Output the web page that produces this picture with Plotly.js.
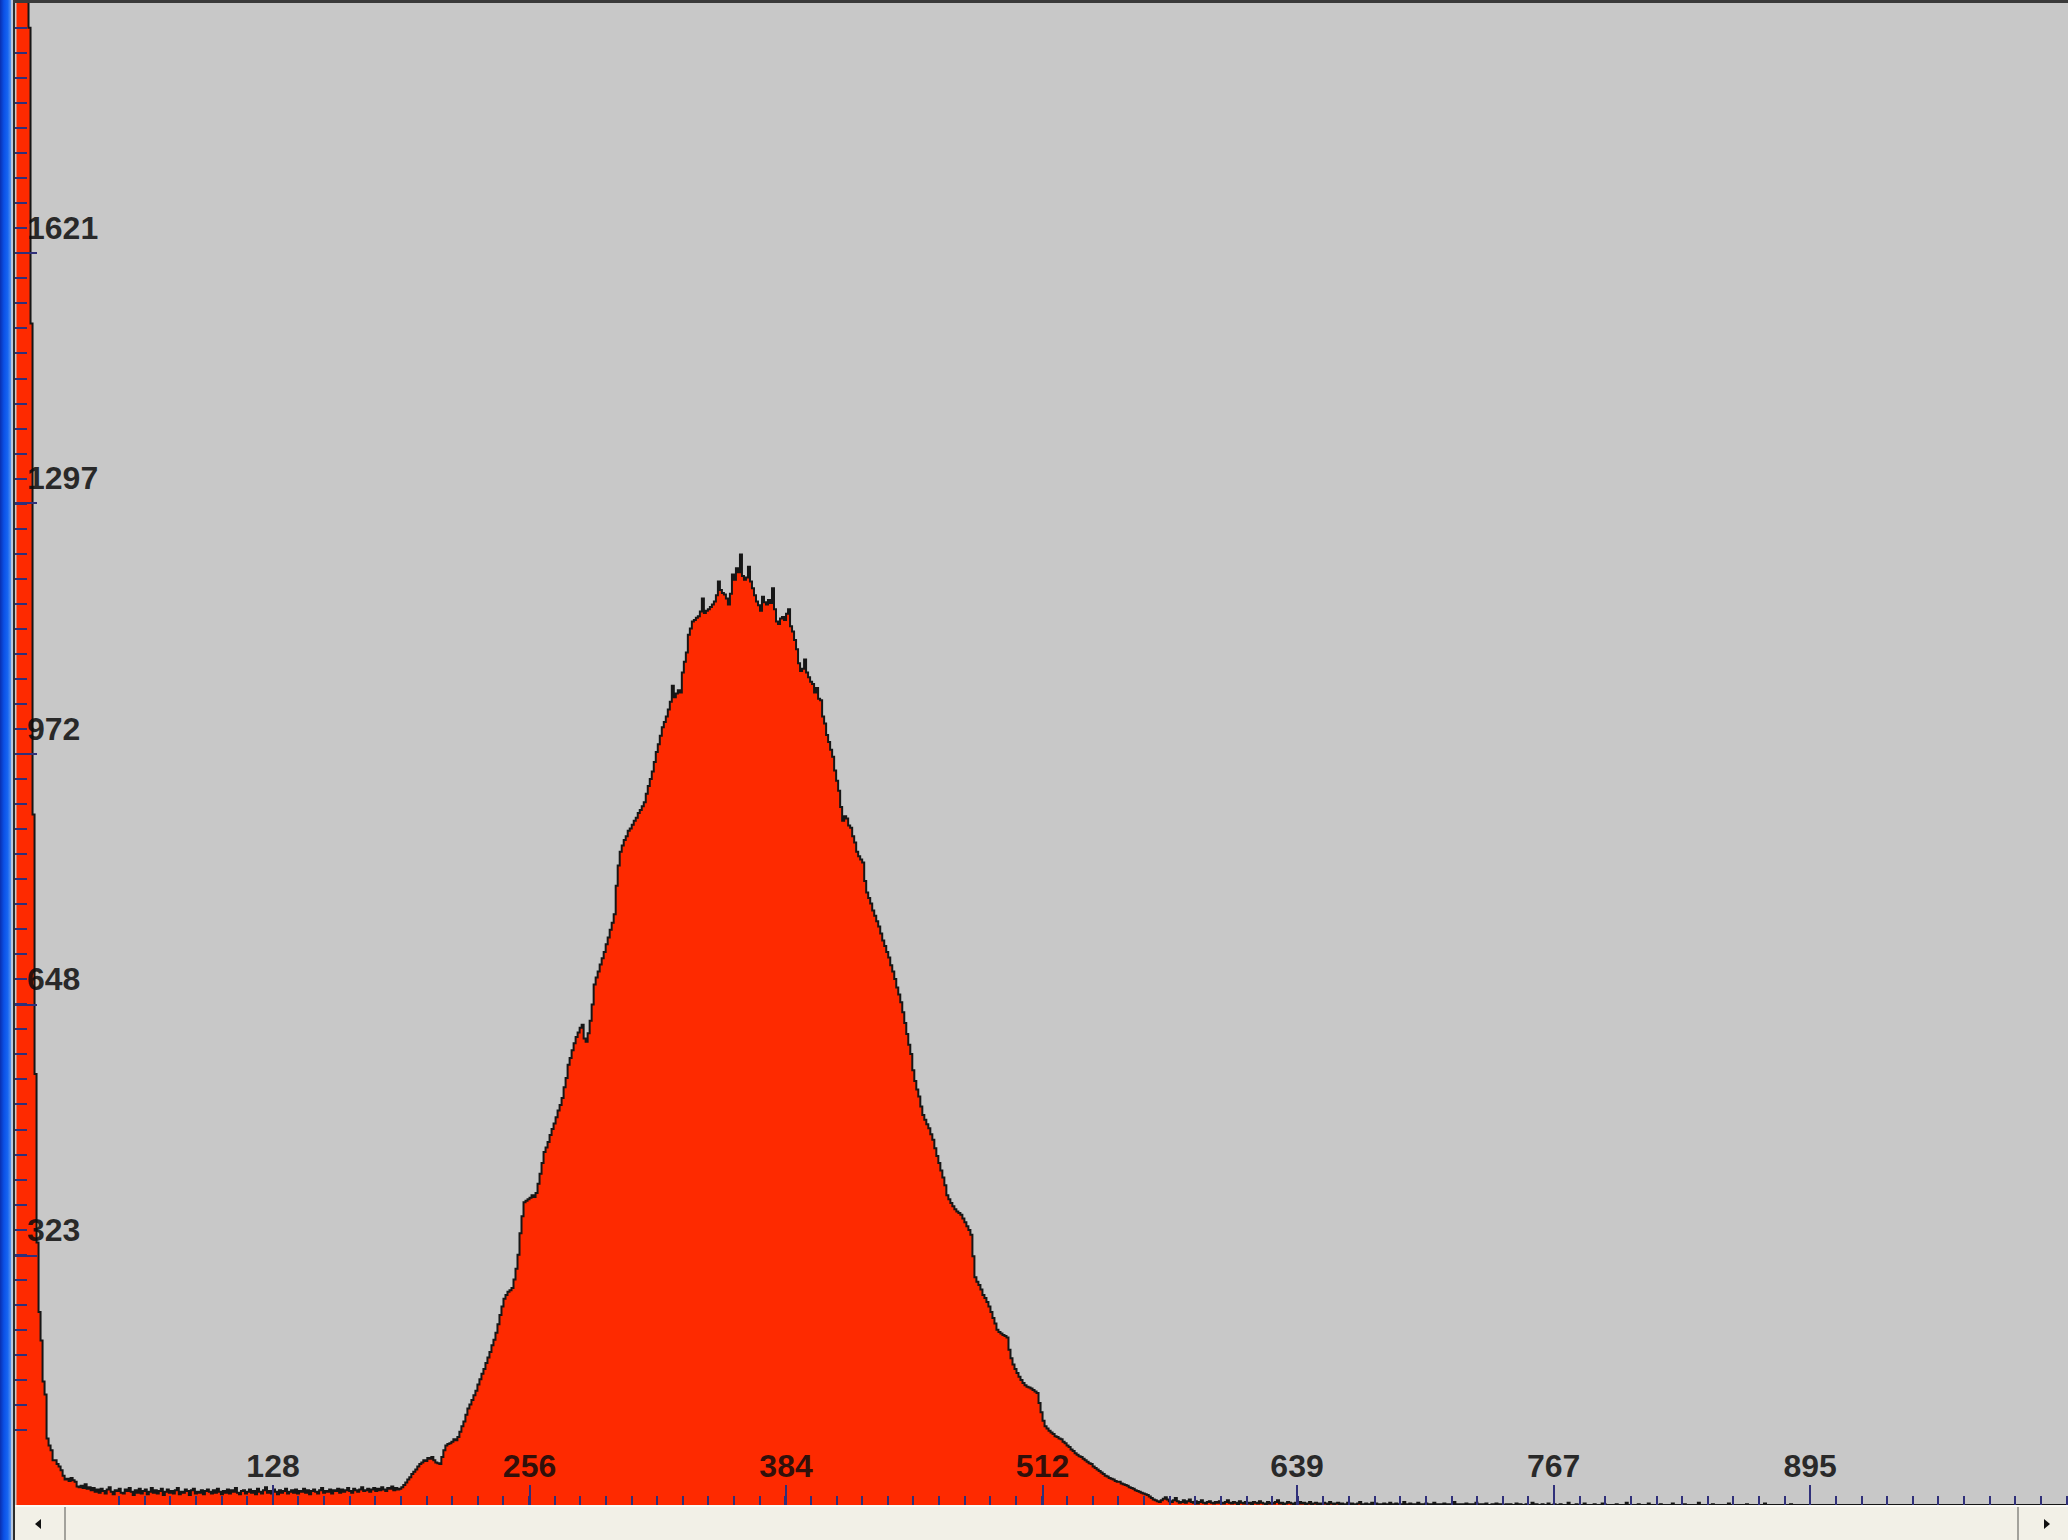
<!DOCTYPE html>
<html>
<head>
<meta charset="utf-8">
<script src="https://cdn.plot.ly/plotly-3.0.1.min.js"></script>
<style>
  html, body { margin: 0; padding: 0; width: 2068px; height: 1540px; overflow: hidden; background: #c8c8c8; }
  #edge { position: absolute; left: 0; top: 0; width: 11px; height: 1540px;
          background: linear-gradient(to right, #0a2fb0 0%, #0b50e6 35%, #1665f2 70%, #5a94ef 100%); }
  #edge-hi { position: absolute; left: 11px; top: 0; width: 2px; height: 1540px; background: #b9c7dc; }
  #edge-dark { position: absolute; left: 13px; top: 0; width: 2px; height: 1540px; background: #2c2c2c; }
  #top-line { position: absolute; left: 13px; top: 0; width: 2055px; height: 3px; background: #3a3a3a; }
  #chart { position: absolute; left: 15px; top: 3px; width: 2053px; height: 1502px; }
  #scroll { position: absolute; left: 15px; top: 1505px; width: 2053px; height: 35px;
            background: #f2f0e7; border-top: 2px solid #fbfaf5; box-sizing: border-box; }
  .sep { position: absolute; top: 0; width: 2px; height: 33px; background: #a3a29c; }
  .arrow { position: absolute; top: 12px; width: 0; height: 0;
           border-top: 5px solid transparent; border-bottom: 5px solid transparent; }
  #arrow-left { left: 20px; border-right: 6px solid #111; }
  #arrow-right { left: 2029px; border-left: 6px solid #111; }
</style>
</head>
<body>
<div id="edge"></div>
<div id="edge-hi"></div>
<div id="edge-dark"></div>
<div id="top-line"></div>
<div id="chart"></div>
<div id="scroll">
  <div class="sep" style="left:49px"></div>
  <div class="sep" style="left:2002px"></div>
  <div class="arrow" id="arrow-left"></div>
  <div class="arrow" id="arrow-right"></div>
</div>
<script>
// Channel histogram: one count per channel, channels 0..1023.
const channelCounts = [
  // 0-36: zero peak and its decay
  9800, 8600, 6400, 4700, 3300, 2450, 1913, 1530, 894, 558, 340, 250, 213, 160, 143, 86, 77, 71, 58, 58,
  53, 50, 45, 38, 33, 34, 31, 35, 32, 30, 24, 23, 25, 22, 27, 21, 23,
  // 37-190: background floor
  19, 22, 17, 20, 16, 21, 18, 15, 20, 23, 17, 14, 19, 18, 21, 16, 15, 20, 18, 22,
  17, 13, 19, 16, 21, 15, 18, 20, 14, 17, 22, 16, 19, 15, 18, 21, 13, 17, 20, 16,
  18, 15, 19, 22, 14, 17, 16, 20, 18, 13, 19, 21, 15, 17, 16, 19, 14, 18, 20, 17,
  15, 19, 16, 21, 17, 14, 18, 16, 20, 15, 19, 17, 22, 16, 14, 18, 19, 15, 17, 20,
  16, 18, 14, 21, 17, 15, 19, 23, 16, 18, 15, 20, 17, 14, 19, 16, 18, 21, 15, 17,
  19, 16, 20, 15, 18, 17, 21, 16, 19, 14, 18, 20, 17, 15, 19, 22, 16, 18, 17, 20,
  15, 19, 18, 21, 16, 20, 17, 19, 22, 18, 16, 21, 19, 17, 20, 23, 18, 19, 21, 17,
  20, 22, 18, 21, 19, 23, 20, 18, 22, 21, 24, 19, 22, 20,
  // 191-260: rising edge of the main peak
  21, 23, 26, 29, 33, 36, 40, 43, 46, 50,
  53, 55, 58, 57, 61, 60, 62, 58, 55, 54,
  53, 62, 71, 77, 79, 80, 82, 85, 84, 88,
  95, 102, 108, 117, 125, 130, 136, 142, 148, 156,
  163, 170, 176, 184, 191, 198, 207, 214, 223, 234,
  246, 257, 267, 272, 276, 278, 281, 292, 306, 324,
  352, 374, 392, 394, 396, 398, 401, 399, 404, 416,
  // 261-330
  429, 443, 457, 463, 470, 479, 487, 494, 502, 511,
  518, 527, 541, 553, 570, 579, 589, 598, 606, 612,
  618, 622, 604, 600, 611, 627, 648, 674, 683, 691,
  700, 708, 716, 726, 735, 745, 754, 765, 802, 828,
  846, 854, 861, 866, 873, 876, 881, 886, 890, 896,
  900, 905, 910, 921, 931, 940, 950, 962, 975, 985,
  996, 1007, 1014, 1021, 1030, 1040, 1061, 1046, 1051, 1055,
  // 331-400: top of the peak
  1052, 1078, 1092, 1104, 1127, 1135, 1144, 1146, 1149, 1151,
  1157, 1174, 1155, 1158, 1160, 1163, 1166, 1170, 1178, 1196,
  1185, 1181, 1179, 1174, 1166, 1180, 1205, 1198, 1213, 1208,
  1231, 1203, 1198, 1201, 1215, 1196, 1187, 1178, 1170, 1165,
  1158, 1176, 1169, 1166, 1172, 1168, 1187, 1160, 1144, 1141,
  1148, 1150, 1146, 1154, 1160, 1138, 1131, 1120, 1108, 1090,
  1080, 1083, 1095, 1078, 1072, 1066, 1063, 1052, 1058, 1044,
  // 401-470: falling edge
  1042, 1021, 1012, 997, 988, 978, 969, 951, 938, 925,
  904, 886, 892, 889, 880, 877, 866, 858, 846, 840,
  836, 832, 808, 793, 786, 779, 770, 763, 756, 749,
  740, 731, 724, 716, 709, 699, 691, 681, 670, 661,
  651, 638, 624, 610, 596, 584, 563, 549, 538, 529,
  516, 505, 499, 493, 488, 480, 473, 462, 452, 443,
  433, 424, 414, 401, 396, 391, 387, 383, 380, 378,
  // 471-540
  376, 371, 366, 361, 356, 350, 322, 295, 289, 285,
  279, 272, 268, 263, 257, 250, 242, 235, 227, 224,
  222, 220, 219, 217, 201, 190, 182, 176, 171, 166,
  162, 158, 155, 153, 152, 151, 149, 147, 145, 132,
  120, 109, 102, 99, 96, 94, 92, 89, 88, 86,
  85, 82, 80, 77, 75, 72, 70, 67, 65, 63,
  62, 60, 58, 56, 54, 53, 50, 48, 46, 44,
  // 541-600: tail
  42, 40, 38, 37, 35, 34, 33, 31, 30, 30,
  28, 27, 26, 25, 23, 22, 21, 19, 18, 17,
  16, 15, 14, 13, 11, 9, 7, 6, 5, 4,
  6, 8, 10, 7, 5, 4, 6, 9, 5, 3,
  4, 6, 3, 5, 7, 4, 3, 5, 2, 4,
  6, 3, 2, 4, 5, 3, 2, 4, 3, 5,
  // 601-700
  3, 2, 4, 6, 3, 2, 4, 3, 1, 5, 3, 2, 4, 2, 3, 1, 4, 3, 2, 5,
  3, 2, 1, 4, 2, 3, 2, 4, 6, 2, 3, 1, 2, 4, 3, 2, 1, 3, 2, 4,
  2, 3, 1, 2, 4, 1, 2, 3, 1, 2, 1, 3, 2, 1, 4, 2, 1, 2, 3, 1,
  2, 1, 1, 3, 1, 2, 0, 1, 2, 4, 1, 1, 2, 0, 1, 3, 1, 2, 1, 0,
  1, 2, 1, 0, 3, 1, 1, 2, 0, 1, 1, 4, 1, 0, 2, 1, 1, 0, 3, 1,
  // 701-800
  0, 1, 2, 1, 0, 1, 3, 0, 1, 1, 0, 2, 1, 0, 1, 0, 4, 1, 0, 1,
  1, 0, 2, 0, 1, 1, 0, 3, 0, 1, 0, 1, 2, 0, 0, 1, 0, 2, 0, 1,
  0, 0, 1, 0, 1, 0, 0, 2, 0, 1, 0, 0, 1, 0, 0, 3, 0, 1, 0, 0,
  1, 0, 0, 2, 0, 0, 1, 0, 0, 1, 0, 0, 0, 3, 0, 0, 0, 1, 0, 0,
  0, 2, 0, 0, 0, 0, 1, 0, 0, 0, 2, 1, 0, 0, 0, 0, 0, 1, 0, 0,
  // 801-900
  0, 0, 3, 0, 0, 0, 0, 0, 1, 0, 0, 0, 0, 2, 0, 0, 0, 0, 0, 1,
  0, 0, 0, 0, 0, 2, 0, 0, 0, 0, 0, 1, 0, 0, 0, 0, 0, 0, 3, 0,
  0, 0, 0, 0, 0, 1, 0, 0, 0, 0, 0, 0, 0, 2, 0, 0, 0, 0, 0, 0,
  0, 0, 1, 0, 0, 0, 0, 0, 0, 0, 0, 2, 0, 0, 0, 0, 0, 0, 0, 0,
  0, 0, 0, 0, 1, 0, 0, 0, 0, 0, 0, 0, 0, 0, 0, 0, 0, 0, 0, 0,
  // 901-1023
  0, 0, 0, 0, 0, 0, 0, 0, 0, 0, 0, 0, 0, 0, 0, 0, 0, 0, 0, 0,
  0, 0, 0, 0, 0, 0, 0, 0, 0, 0, 0, 0, 0, 0, 0, 0, 0, 0, 0, 0,
  0, 0, 0, 0, 0, 0, 0, 0, 0, 0, 0, 0, 0, 0, 0, 0, 0, 0, 0, 0,
  0, 0, 0, 0, 0, 0, 0, 0, 0, 0, 0, 0, 0, 0, 0, 0, 0, 0, 0, 0,
  0, 0, 0, 0, 0, 0, 0, 0, 0, 0, 0, 0, 0, 0, 0, 0, 0, 0, 0, 0,
  0, 0, 0, 0, 0, 0, 0, 0, 0, 0, 0, 0, 0, 0, 0, 0, 0, 0, 0, 0,
  0, 0, 0
];

// Axis labelling
const channelMax = 1023;
const countMax = 1945;
const xTickValues = [128, 256, 384, 512, 639, 767, 895];
const xTickLabels = ['128', '256', '384', '512', '639', '767', '895'];
const yTickValues = [323, 648, 972, 1297, 1621];
const yTickLabels = ['323', '648', '972', '1297', '1621'];

const tickInk = '#30307a';
const labelFont = { family: 'Liberation Sans, Arial, sans-serif', size: 32, color: 'rgba(12,12,12,0.86)', weight: 'bold' };

const trace = {
  type: 'scatter',
  mode: 'lines',
  x0: 0,
  dx: 1,
  y: channelCounts,
  line: { shape: 'hv', color: '#161616', width: 2 },
  fill: 'tozeroy',
  fillcolor: '#fe2a00',
  hoverinfo: 'skip'
};

const layout = {
  width: 2053,
  height: 1502,
  margin: { l: 0, r: 0, t: 0, b: 0, pad: 0 },
  paper_bgcolor: '#c8c8c8',
  plot_bgcolor: '#c8c8c8',
  showlegend: false,
  xaxis: {
    range: [-0.75, channelMax + 0.7],
    tickmode: 'array',
    tickvals: xTickValues,
    ticktext: xTickLabels,
    ticks: 'inside',
    ticklen: 20,
    tickwidth: 2,
    tickcolor: tickInk,
    ticklabelposition: 'inside',
    ticklabelstandoff: 5,
    tickfont: labelFont,
    showgrid: false,
    zeroline: false,
    showline: false,
    fixedrange: true,
    minor: { tickmode: 'linear', tick0: 0, dtick: channelMax / 80, ticks: 'inside', ticklen: 9, tickwidth: 2, tickcolor: tickInk, showgrid: false }
  },
  yaxis: {
    range: [0, countMax],
    tickmode: 'array',
    tickvals: yTickValues,
    ticktext: yTickLabels,
    ticks: 'inside',
    ticklen: 22,
    tickwidth: 2,
    tickcolor: tickInk,
    ticklabelposition: 'inside top',
    ticklabelstandoff: 9,
    ticklabelshift: -2,
    tickfont: labelFont,
    showgrid: false,
    zeroline: false,
    showline: false,
    fixedrange: true,
    minor: { tickmode: 'linear', tick0: 0, dtick: countMax / 60, ticks: 'inside', ticklen: 12, tickwidth: 2, tickcolor: tickInk, showgrid: false }
  }
};

Plotly.newPlot('chart', [trace], layout, { displayModeBar: false, staticPlot: true });
</script>
</body>
</html>
